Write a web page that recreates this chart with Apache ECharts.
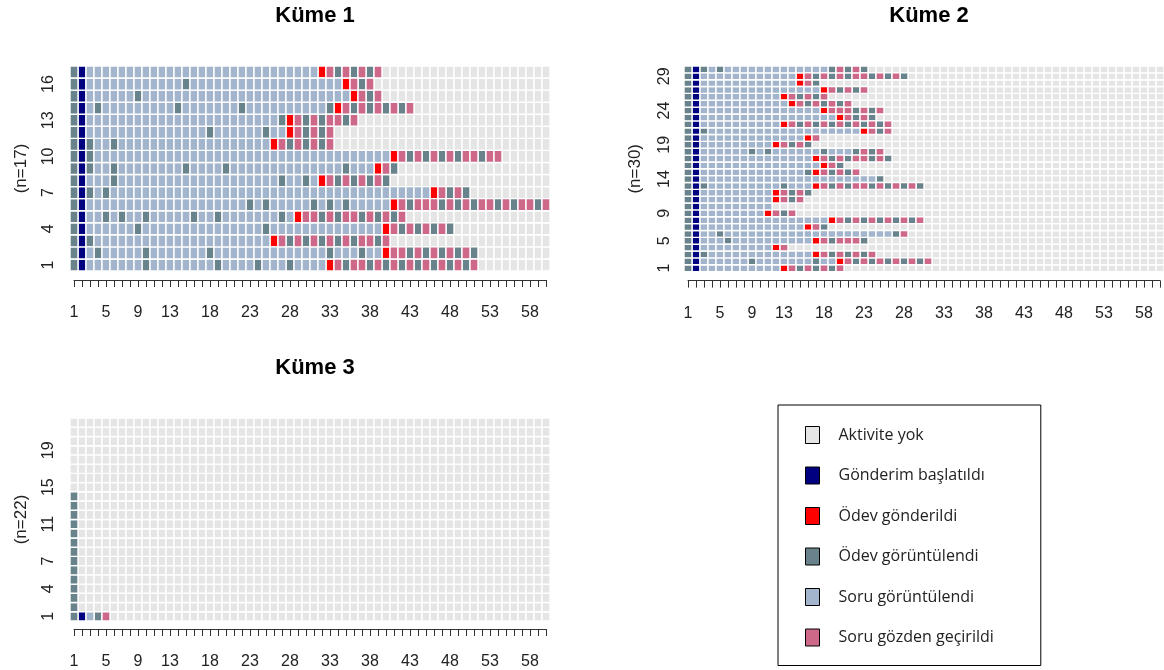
<!DOCTYPE html>
<html>
<head>
<meta charset="utf-8">
<title>Küme dizileri</title>
<script src="https://cdn.jsdelivr.net/npm/echarts@6/dist/echarts.min.js"></script>
<style>
  html, body { margin: 0; padding: 0; background: #ffffff; }
  #chart { width: 1164px; height: 670px; }
</style>
</head>
<body>
<div id="chart"></div>
<script>
// ---- data ----------------------------------------------------------------
const positions = 60;

// state alphabet: code, label, colour
const stateCodes  = ['N', 'B', 'R', 'G', 'S', 'P'];
const stateNames  = ['Aktivite yok', 'Gönderim başlatıldı', 'Ödev gönderildi',
                     'Ödev görüntülendi', 'Soru görüntülendi', 'Soru gözden geçirildi'];
const stateColors = ['#E5E5E5', '#000080', '#FF0000', '#68838B', '#A2B5CD', '#CD6889'];

const clusterTitles = ['Küme 1', 'Küme 2', 'Küme 3'];
const xTickLabels = [1, 5, 9, 13, 18, 23, 28, 33, 38, 43, 48, 53, 58];

// sequences, run-length coded (code + repeat count), row 1 first; padded with N
const cluster1Sequences = [
  'G B S7 G S8 G S4 G S3 G S4 R P G P P G P G P G P G P G P G P G P',
  'G B S G S5 G S7 G S14 G S3 G S2 R P P G P G P G P G P G',
  'G B G S22 R P G P G P G P G P G P P G P',
  'G B S6 G S15 G S14 R P G P G P G P G',
  'G B S2 G S G S2 G S5 G S2 G S7 G S R P P G P G P P G P G P G P',
  'G B S20 G S G S5 G S G S G S5 R P G P P P G P G P G P P G P G P P G P',
  'G B G S G S40 R P G P G',
  'G B S3 G S20 G S2 G S R P G P G P G P G',
  'G B G S2 G S8 G S4 G S14 G S3 R P G',
  'G B G S37 R P G P G P G P G P P G P P',
  'G B G S2 G S19 R P G P G P G P',
  'G B S15 G S6 G S2 R P G P G P',
  'G B S24 G R P G P G P P G P',
  'G B S G S9 G S7 G S10 G R P G P G P G P G P',
  'G B S6 G S26 R P G P',
  'G B S12 G S19 R P G P',
  'G B S29 R P G P G P G P'
];
const cluster1YLabels = [1, 4, 7, 10, 13, 16];

const cluster2Sequences = [
  'G B S10 R P G P G P G P',
  'G B S6 G S7 G S2 R P G P G P G P G P G P',
  'G B G S13 R P G P G P G P',
  'G B S9 R P',
  'G B S3 G S10 R P G P P P G',
  'G B S2 G S21 G P',
  'G B S13 R P G',
  'G B S16 R P G P G P G P G P G P',
  'G B S8 R P G P',
  'G B S9',
  'G B S9 R P G P',
  'G B S9 R P G P G',
  'G B G S9 G S3 R P G P G P P G P G P G P G',
  'G B S22 G',
  'G B S13 G R P G P G P',
  'G B S15 R P G',
  'G B S14 R P G P G P P G P G',
  'G B S6 G S G S6 G S3 G P G P',
  'G B S9 R P G P G',
  'G B S13 R P',
  'G B G S19 R P G P',
  'G B S10 R P G P G P G P G P G P G P',
  'G B S17 R P G P G',
  'G B S15 R P P P G P G P',
  'G B S11 R P G P G P G P',
  'G B S10 R P G P G P',
  'G B S15 R P G P G P',
  'G B S12 R P G',
  'G B S12 R P G P G P G P P G P G P G',
  'G B G S G S13 G P G P G'
];
const cluster2YLabels = [1, 5, 9, 14, 19, 24, 29];

const cluster3Sequences = [
  'G B S G P',
  'G', 'G', 'G', 'G', 'G', 'G', 'G', 'G', 'G', 'G', 'G', 'G', 'G',
  '', '', '', '', '', '', '', ''
];
const cluster3YLabels = [1, 4, 7, 11, 15, 19];

// ---- helpers -------------------------------------------------------------
function expandSequence(rle) {
  const out = [];
  rle.trim().split(/\s+/).filter(Boolean).forEach(tok => {
    const code = tok[0];
    const count = tok.length > 1 ? parseInt(tok.slice(1), 10) : 1;
    for (let i = 0; i < count; i++) out.push(code);
  });
  while (out.length < positions) out.push('N');
  return out.slice(0, positions);
}

// one cell per position, filled with the state colour, white seams between
function renderCell(params, api) {
  const c = api.coord([api.value(0), api.value(1)]);
  const s = api.size([1, 1]);
  return {
    type: 'rect',
    shape: { x: c[0] - s[0] / 2, y: c[1] - s[1] / 2, width: s[0], height: s[1] },
    style: { fill: api.visual('color'), stroke: '#ffffff', lineWidth: 1.4 }
  };
}

// ---- layout --------------------------------------------------------------
const panels = [
  { seqs: cluster1Sequences, yLabels: cluster1YLabels, left: 74,  top: 66,  height: 205,
    titleX: 310, titleTop: 0,   labelMargin: 17, nameGap: 44, xOffset: 9 },
  { seqs: cluster2Sequences, yLabels: cluster2YLabels, left: 688, top: 66,  height: 205.6,
    titleX: 924, titleTop: 0,   labelMargin: 15, nameGap: 44, xOffset: 9 },
  { seqs: cluster3Sequences, yLabels: cluster3YLabels, left: 74,  top: 418, height: 207,
    titleX: 310, titleTop: 352, labelMargin: 17, nameGap: 44, xOffset: 8 }
];

const axisFont = 'Liberation Sans, Arial, Helvetica, sans-serif';

const grids = [], xAxes = [], yAxes = [], titles = [], series = [];

panels.forEach((p, i) => {
  const rows = p.seqs.map(expandSequence);
  grids.push({ left: p.left, top: p.top, width: 472, height: p.height, containLabel: false });

  xAxes.push({
    type: 'value', gridIndex: i, min: 1, max: positions, interval: 1,
    offset: p.xOffset,
    splitLine: { show: false },
    axisLine: { show: true, lineStyle: { color: '#333', width: 1 } },
    axisTick: { show: true, length: 7, lineStyle: { color: '#333', width: 1 } },
    axisLabel: {
      margin: 25, fontSize: 16, color: '#222', fontFamily: axisFont,
      formatter: v => (xTickLabels.includes(v) ? String(v) : '')
    }
  });

  yAxes.push({
    type: 'category', gridIndex: i,
    data: rows.map((_, r) => String(r + 1)),
    axisLine: { show: false }, axisTick: { show: false }, splitLine: { show: false },
    axisLabel: {
      rotate: 90, margin: p.labelMargin, fontSize: 16, color: '#222', fontFamily: axisFont,
      interval: idx => p.yLabels.includes(idx + 1)
    },
    name: '(n=' + rows.length + ')',
    nameLocation: 'middle', nameRotate: 90, nameGap: p.nameGap,
    nameTextStyle: { fontSize: 17, color: '#222', fontFamily: axisFont }
  });

  titles.push({
    text: clusterTitles[i], left: p.titleX, top: p.titleTop, textAlign: 'center',
    textStyle: { fontSize: 22, fontWeight: 'bold', color: '#000', fontFamily: axisFont }
  });

  stateCodes.forEach((code, s) => {
    const cells = [];
    rows.forEach((seq, r) => seq.forEach((st, c) => { if (st === code) cells.push([c + 1, r]); }));
    series.push({
      type: 'custom', name: stateNames[s], xAxisIndex: i, yAxisIndex: i,
      renderItem: renderCell, data: cells, silent: true,
      itemStyle: { color: stateColors[s] }
    });
  });
});

const chart = echarts.init(document.getElementById('chart'), null, { renderer: 'canvas' });
chart.setOption({
  backgroundColor: '#ffffff',
  animation: false,
  title: titles,
  grid: grids,
  xAxis: xAxes,
  yAxis: yAxes,
  legend: {
    orient: 'vertical', left: 778, top: 405, width: 250, height: 300,
    data: stateNames, selectedMode: false, icon: 'rect',
    itemWidth: 14, itemHeight: 17, itemGap: 22.5,
    padding: [21, 47, 19, 27],
    borderColor: '#000', borderWidth: 1,
    itemStyle: { borderColor: '#000', borderWidth: 1 },
    textStyle: { fontFamily: 'Open Sans, Noto Sans, sans-serif', fontSize: 16, color: '#222',
                 lineHeight: 17, padding: [0, 0, 0, 14] }
  },
  series: series
});
</script>
</body>
</html>
